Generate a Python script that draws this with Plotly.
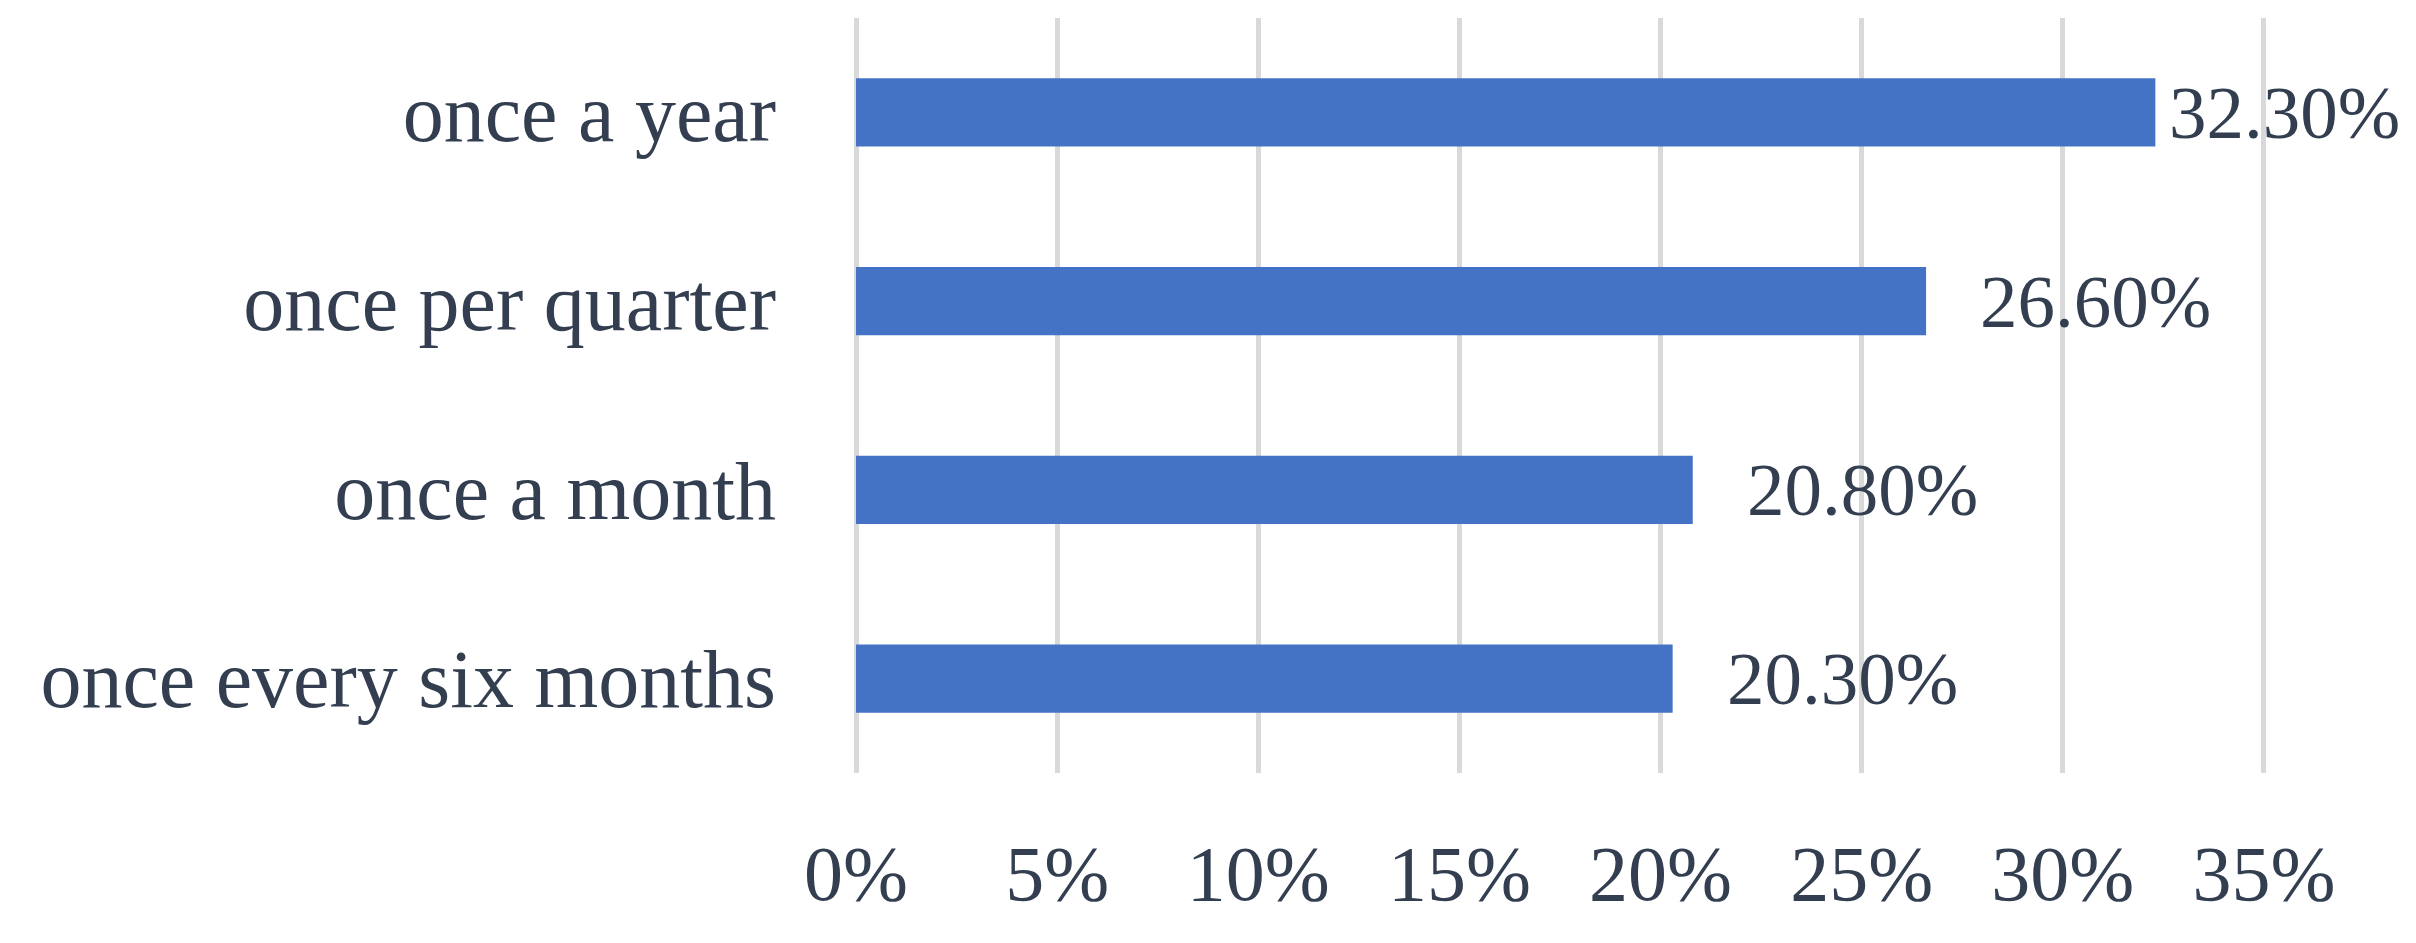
import plotly.graph_objects as go

# Survey answers, top to bottom as drawn
categories = ["once a year", "once per quarter", "once a month", "once every six months"]
shares = [0.323, 0.266, 0.208, 0.203]
label_texts = ["32.30%", "26.60%", "20.80%", "20.30%"]
x_ticks = [0, 0.05, 0.10, 0.15, 0.20, 0.25, 0.30, 0.35]
x_tick_labels = ["0%", "5%", "10%", "15%", "20%", "25%", "30%", "35%"]

BAR_COLOR = "#4472c4"
TEXT_COLOR = "#333f50"
GRID_COLOR = "#d9d9d9"
FONT = "Liberation Serif"

fig = go.Figure(
    go.Bar(
        x=shares,
        y=categories,
        orientation="h",
        marker=dict(color=BAR_COLOR, line=dict(width=0)),
        hoverinfo="x+y",
    )
)

# value labels sit just past each bar end (first one is squeezed by the edge)
label_shift = [12, 52, 52, 52]
for cat, val, txt, dx in zip(categories, shares, label_texts, label_shift):
    fig.add_annotation(
        x=val, y=cat, text=txt, showarrow=False,
        xanchor="left", yanchor="middle", xshift=dx,
        font=dict(family=FONT, size=75, color=TEXT_COLOR),
    )

# pad the range a hair so plotly still draws the 0% and 35% gridlines
pad = 0.001
fig.update_layout(
    width=2416,
    height=943,
    paper_bgcolor="white",
    plot_bgcolor="white",
    # page body adds ~8px offset, so margins are trimmed to compensate
    margin=dict(l=844, r=156, t=10, b=178),
    bargap=0.638,
    showlegend=False,
    font=dict(family=FONT, color=TEXT_COLOR),
)
fig.update_xaxes(
    range=[-pad, 0.35 + pad],
    tickvals=x_ticks,
    ticktext=x_tick_labels,
    showgrid=True,
    gridcolor=GRID_COLOR,
    gridwidth=5,
    zeroline=False,
    showline=False,
    ticks="",
    automargin=False,
    ticklabelstandoff=48,
    tickfont=dict(family=FONT, size=78, color=TEXT_COLOR),
)
fig.update_yaxes(
    autorange="reversed",
    showgrid=False,
    zeroline=False,
    showline=False,
    ticks="",
    automargin=False,
    ticklabelstandoff=75,
    tickfont=dict(family=FONT, size=82, color=TEXT_COLOR),
)

fig.write_html("out.html")
